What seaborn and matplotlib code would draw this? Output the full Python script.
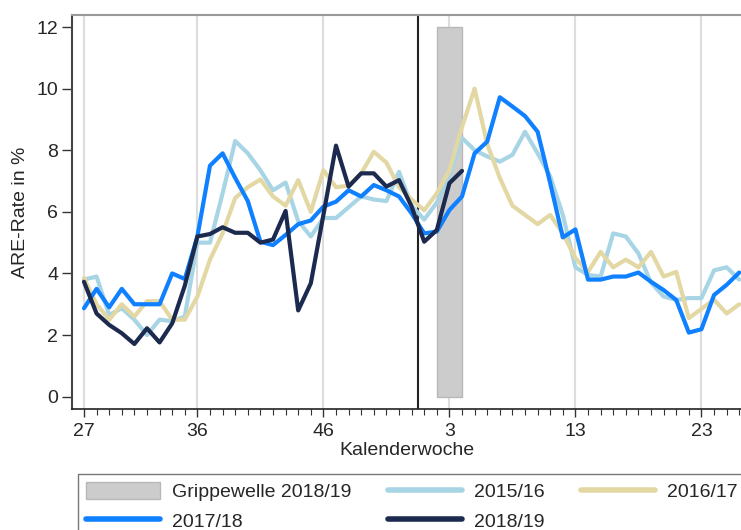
import numpy as np
import pandas as pd
import matplotlib
matplotlib.use("Agg")
import matplotlib.pyplot as plt
from matplotlib.patches import Patch
from matplotlib.lines import Line2D
import seaborn as sns

# calendar weeks of a season (week 27 .. week 26, 2015 had 53 weeks)
weeks = list(range(27, 54)) + list(range(1, 27))
tick_weeks = [27, 36, 46, 3, 13, 23]

# ARE rate in % per week
s2015 = [3.8, 3.9, 2.65, 2.87, 2.5, 2.0, 2.5, 2.45, 2.6, 5.0,
         5.0, 6.6, 8.3, 7.9, 7.35, 6.7, 6.95, 5.7, 5.2, 5.8,
         5.8, 6.15, 6.5, 6.4, 6.35, 7.3, 6.2, 5.75, 6.3, 7.2,
         8.4, 8.0, 7.8, 7.63, 7.85, 8.6, 7.9, 7.15, 5.9, 4.2,
         3.95, 3.9, 5.3, 5.2, 4.65, 3.7, 3.25, 3.14, 3.2, 3.2,
         4.1, 4.2, 3.8]
s2016 = [3.85, 3.0, 2.5, 3.0, 2.6, 3.1, 3.1, 2.5, 2.5, 3.25,
         4.45, 5.3, 6.45, 6.8, 7.05, 6.5, 6.2, 7.03, 6.0, 7.35,
         6.8, 6.85, 7.25, 7.95, 7.6, 6.8, 6.4, 6.05, 6.6, 7.35,
         8.75, 10.0, 8.2, 7.1, 6.2, 5.9, 5.6, 5.9, 5.3, 4.5,
         4.05, 4.7, 4.2, 4.45, 4.2, 4.7, 3.9, 4.05, 2.55, 2.85,
         3.15, 2.7, 3.0]
s2017 = [2.87, 3.5, 2.9, 3.5, 3.0, 3.0, 3.0, 4.0, 3.82, 5.2,
         7.5, 7.9, 7.1, 6.35, 5.03, 4.92, 5.25, 5.6, 5.72, 6.17,
         6.33, 6.7, 6.5, 6.87, 6.7, 6.5, 5.95, 5.3, 5.36, 6.06,
         6.5, 7.9, 8.28, 9.72, 9.42, 9.11, 8.6, 6.93, 5.17, 5.43,
         3.8, 3.8, 3.9, 3.9, 4.03, 3.73, 3.46, 3.14, 2.08, 2.19,
         3.3, 3.63, 4.03]
s2018 = [3.73, 2.7, 2.33, 2.06, 1.71, 2.22, 1.76, 2.38, 3.6, 5.2,
         5.28, 5.5, 5.32, 5.32, 5.0, 5.1, 6.03, 2.8, 3.68, 5.9,
         8.15, 6.82, 7.25, 7.25, 6.82, 7.03, 6.17, 5.03, 5.41, 6.93,
         7.33]

seasons = ["2015/16", "2016/17", "2017/18", "2018/19"]
colors = ["#a8d5e5", "#e3d8a3", "#0f80ff", "#1b2a4e"]

# flu wave 2018/19: weeks 2 to 3
flu_start, flu_end = 2, 3
flu_top = 12

rows = []
for name, vals in zip(seasons, [s2015, s2016, s2017, s2018]):
    for i, v in enumerate(vals):
        rows.append({"pos": i, "week": weeks[i], "rate": v, "season": name})
df = pd.DataFrame(rows)

sns.set_style("white")
plt.rcParams["font.family"] = ["Liberation Sans", "DejaVu Sans"]
plt.rcParams["font.size"] = 14

fig = plt.figure(figsize=(7.41, 5.30), dpi=100)
ax = fig.add_axes([72 / 741, 1 - 409.3 / 530, 1 - 72 / 741, (409.3 - 14.7) / 530])

# grey bar for the flu wave
p0 = weeks.index(flu_start)
p1 = weeks.index(flu_end) + 1
ax.bar((p0 + p1) / 2, flu_top, width=(p1 - p0) * 0.98, bottom=0,
       color="#cccccc", edgecolor="#b8b8b8", linewidth=1, zorder=1)

# year change
ax.axvline(weeks.index(1) - 0.5, color="#222222", linewidth=1.5, zorder=1.5)

sns.lineplot(data=df, x="pos", y="rate", hue="season", hue_order=seasons,
             palette=colors, linewidth=3, sort=False, estimator=None,
             legend=False, ax=ax, zorder=2)

ax.set_xlim(-0.95, 52.14)
ax.set_ylim(-0.41, 12.4)

tick_pos = [weeks.index(w) for w in tick_weeks]
ax.set_xticks(tick_pos)
ax.set_xticklabels([str(w) for w in tick_weeks])
ax.set_xticks(range(len(weeks)), minor=True)
ax.set_yticks(range(0, 13, 2))

ax.set_axisbelow(True)
ax.xaxis.grid(True, which="major", color="#dddddd", linewidth=1.5)
ax.yaxis.grid(False)

ax.tick_params(axis="x", which="major", direction="out", length=6, width=1,
               color="#333333", labelsize=14, pad=4, bottom=True)
ax.tick_params(axis="x", which="minor", direction="out", length=4, width=0.8,
               color="#333333", bottom=True)
ax.tick_params(axis="y", direction="out", length=7, width=1, color="#333333",
               labelsize=14, pad=3, left=True)

ax.spines["left"].set_color("#444444")
ax.spines["left"].set_linewidth(1.5)
ax.spines["bottom"].set_color("#222222")
ax.spines["bottom"].set_linewidth(1.2)
ax.spines["top"].set_color("#999999")
ax.spines["top"].set_linewidth(1.5)
ax.spines["right"].set_visible(False)

ax.set_xlabel("Kalenderwoche", fontsize=14, labelpad=1)
ax.set_ylabel("ARE-Rate in %", fontsize=14, labelpad=5)

# legend below, partly cut off like the original
handles = [
    Patch(facecolor="#cccccc", edgecolor="#b8b8b8", label="Grippewelle 2018/19"),
    Line2D([], [], color=colors[2], linewidth=4, label="2017/18"),
    Line2D([], [], color=colors[0], linewidth=4, label="2015/16"),
    Line2D([], [], color=colors[3], linewidth=4, label="2018/19"),
    Line2D([], [], color=colors[1], linewidth=4, label="2016/17"),
]
leg = fig.legend(handles=handles, ncol=3, loc="upper left",
                 bbox_to_anchor=(78 / 741, 1 - 474.3 / 530),
                 bbox_transform=fig.transFigure, borderaxespad=0,
                 fontsize=14, frameon=True, fancybox=False,
                 handlelength=3.8, handleheight=1.0, handletextpad=0.65,
                 columnspacing=1.85, labelspacing=0.5, borderpad=0.4)
leg.get_frame().set_edgecolor("#555555")
leg.get_frame().set_linewidth(1)

fig.savefig("out.png", dpi=100)
